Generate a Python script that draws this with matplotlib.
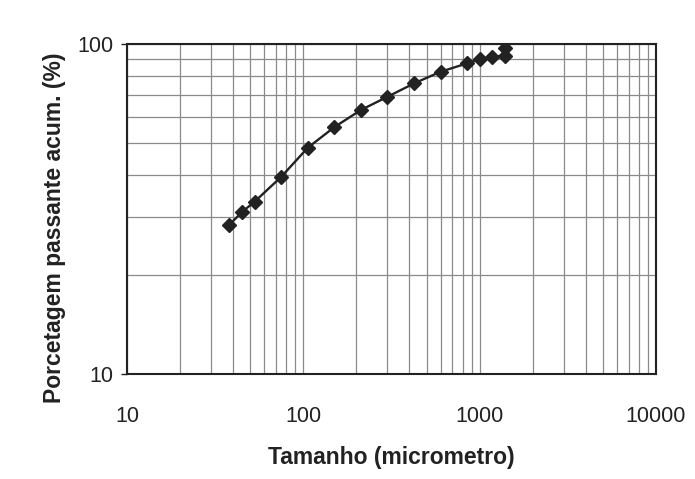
import numpy as np
from matplotlib import pyplot as plt
from matplotlib.ticker import LogLocator, NullFormatter, FixedLocator, FixedFormatter

# particle size (micrometro) and cumulative passing (%)
tamanho = [38, 45, 53, 75, 106, 150, 212, 300, 425, 600, 850, 1000, 1180, 1400, 1400]
passante = [28.3, 31.0, 33.3, 39.6, 48.5, 56.0, 63.1, 69.2, 76.0, 82.4, 87.4, 89.9, 91.5, 92.2, 97.0]

xticks = [10, 100, 1000, 10000]
yticks = [10, 100]

plt.rcParams['font.family'] = ['Liberation Sans', 'DejaVu Sans']

fig = plt.figure(figsize=(6.95, 4.79), dpi=100)
ax = fig.add_axes([0.1827, 0.2192, 0.7612, 0.6889])

ax.set_xscale('log')
ax.set_yscale('log')
ax.set_xlim(10, 10000)
ax.set_ylim(10, 100)

ax.plot(tamanho, passante, color='#222222', linewidth=1.7,
        marker='D', markersize=7.5, markerfacecolor='#222222', markeredgecolor='#222222')

ax.xaxis.set_major_locator(FixedLocator(xticks))
ax.xaxis.set_major_formatter(FixedFormatter([str(v) for v in xticks]))
ax.yaxis.set_major_locator(FixedLocator(yticks))
ax.yaxis.set_major_formatter(FixedFormatter([str(v) for v in yticks]))
ax.xaxis.set_minor_locator(LogLocator(base=10, subs=np.arange(2, 10)))
ax.yaxis.set_minor_locator(LogLocator(base=10, subs=np.arange(2, 10)))
ax.xaxis.set_minor_formatter(NullFormatter())
ax.yaxis.set_minor_formatter(NullFormatter())

ax.grid(True, which='both', color='#8a8a8a', linewidth=0.9)
ax.set_axisbelow(True)

ax.tick_params(axis='x', which='both', length=0, labelsize=15.5, pad=23, colors='#222222')
ax.tick_params(axis='y', which='major', length=4, width=1, labelsize=15.5, pad=6, colors='#222222')
ax.tick_params(axis='y', which='minor', length=0)

for s in ax.spines.values():
    s.set_linewidth(1.5)
    s.set_color('#222222')

ax.set_xlabel('Tamanho (micrometro)', fontsize=16.5, fontweight='bold', labelpad=14, color='#222222')
ax.set_ylabel('Porcetagem passante acum. (%)', fontsize=16.5, fontweight='bold', color='#222222')
ax.yaxis.set_label_coords(-0.116, 0.442)

plt.savefig('out.png', dpi=100)
plt.close()
